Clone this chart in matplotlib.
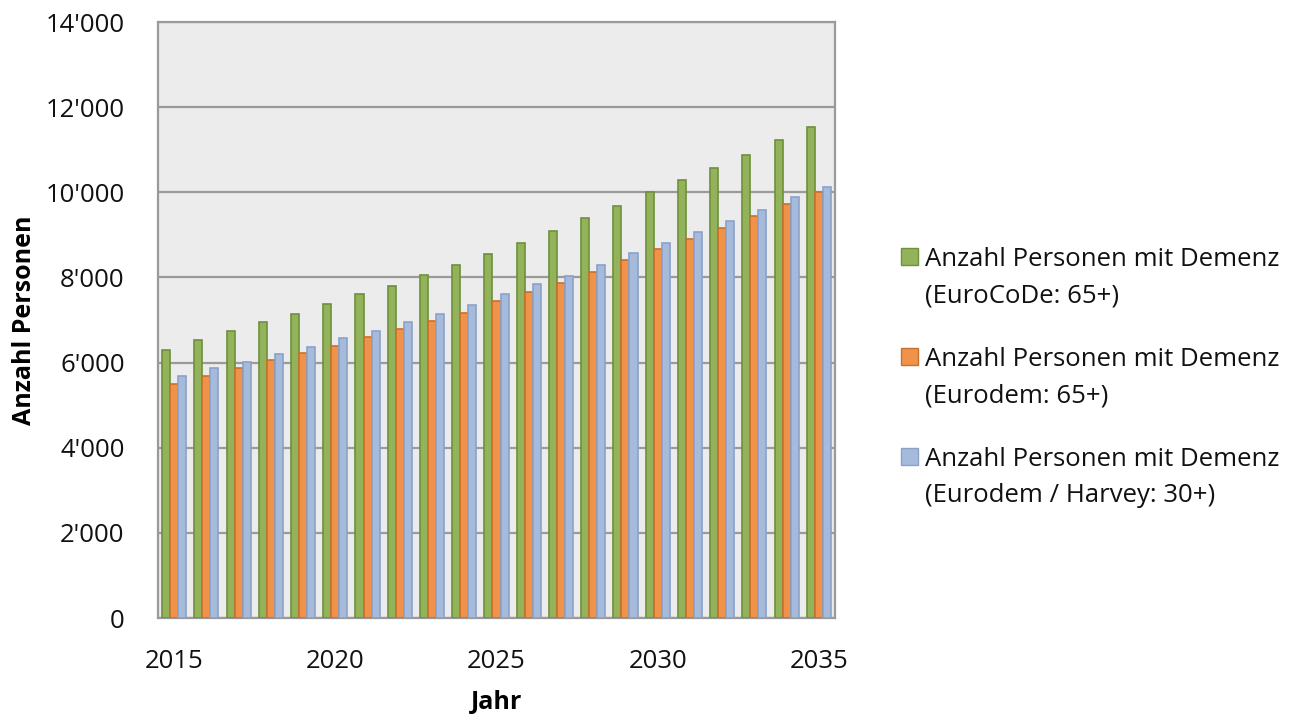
import numpy as np
import matplotlib.pyplot as plt
from matplotlib.patches import Rectangle
from matplotlib.ticker import FuncFormatter, MultipleLocator

# Daten
jahre = list(range(2015, 2036))
eurocode_65 = [6300, 6530, 6740, 6950, 7140, 7380, 7600, 7810, 8060, 8300, 8560,
               8820, 9090, 9385, 9670, 9995, 10280, 10580, 10870, 11220, 11540]
eurodem_65 = [5500, 5690, 5870, 6050, 6220, 6400, 6590, 6780, 6970, 7170, 7450,
              7660, 7870, 8130, 8405, 8665, 8900, 9165, 9445, 9720, 9995]
eurodem_harvey_30 = [5690, 5870, 6020, 6195, 6360, 6580, 6750, 6960, 7145, 7355, 7610,
                     7835, 8040, 8290, 8570, 8820, 9070, 9315, 9595, 9880, 10130]

serien = [eurocode_65, eurodem_65, eurodem_harvey_30]
labels = ["Anzahl Personen mit Demenz\n(EuroCoDe: 65+)",
          "Anzahl Personen mit Demenz\n(Eurodem: 65+)",
          "Anzahl Personen mit Demenz\n(Eurodem / Harvey: 30+)"]
farben = ["#93b35a", "#f0924a", "#a6bbdc"]
kanten = ["#6f8f3c", "#c8702e", "#8aa2c8"]

plt.rcParams['font.family'] = ['Open Sans', 'DejaVu Sans']

fig = plt.figure(figsize=(12.9, 7.17), dpi=100)
ax = fig.add_axes([158 / 1290, 99 / 717, 677 / 1290, 596 / 717])
ax.set_facecolor("#ececec")

x = np.array(jahre)
breite = 0.25
for i, (werte, farbe, kante) in enumerate(zip(serien, farben, kanten)):
    ax.bar(x + (i - 1) * breite, werte, width=breite, color=farbe,
           edgecolor=kante, linewidth=1.2, zorder=3)

ax.set_xlim(2014.5, 2035.5)
ax.set_ylim(0, 14000)
ax.yaxis.set_major_locator(MultipleLocator(2000))
ax.set_xticks([2015, 2020, 2025, 2030, 2035])
ax.yaxis.set_major_formatter(FuncFormatter(lambda v, p: f"{int(v):,}".replace(",", "'")))
ax.grid(axis="y", color="#9a9a9a", linewidth=1.6, zorder=0)
ax.tick_params(length=0, labelsize=18.5, colors="#111111")
ax.tick_params(axis="y", pad=24)
ax.tick_params(axis="x", pad=22)
for s in ax.spines.values():
    s.set_color("#9a9a9a")
    s.set_linewidth(1.6)

ax.set_ylabel("Anzahl Personen", fontsize=18, fontweight="bold")
ax.set_xlabel("Jahr", fontsize=18, fontweight="bold")
ax.yaxis.set_label_coords(-0.178, 0.5)
ax.xaxis.set_label_coords(0.5, -0.12)

# Legende rechts
for i, (lab, farbe, kante) in enumerate(zip(labels, farben, kanten)):
    y_top = 717 - 248 - i * 100
    fig.patches.append(Rectangle((901 / 1290, (y_top - 17) / 717), 17 / 1290, 17 / 717,
                                 facecolor=farbe, edgecolor=kante, linewidth=1,
                                 transform=fig.transFigure, figure=fig))
    fig.text(925 / 1290, (y_top + 1) / 717, lab, fontsize=18.5, va="top",
             linespacing=1.6, color="#111111")

fig.savefig("out.png", dpi=100)
